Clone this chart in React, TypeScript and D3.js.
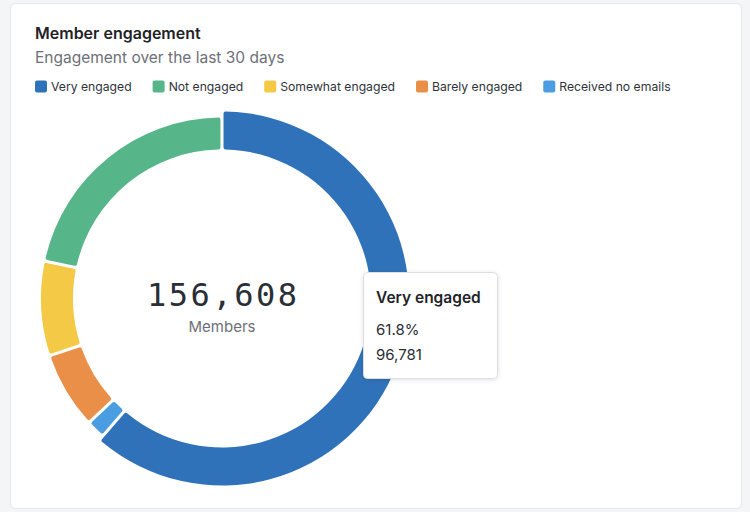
import React, { useEffect, useRef } from "react";
import * as d3 from "d3";

const categories = ["Very engaged", "Not engaged", "Somewhat engaged", "Barely engaged", "Received no emails"];
const members = [96781, 33977, 13000, 10500, 2350];
const colors = ["#3072b9", "#57b58a", "#f3c945", "#ea8f47", "#4a9de0"];
// draw order clockwise from 12 o'clock
const drawOrder = [0, 4, 3, 2, 1];
const title = "Member engagement";
const subtitle = "Engagement over the last 30 days";
const centerLabel = "Members";
const hovered = 0;

const FONT = "Inter, 'Noto Sans', sans-serif";

export default function App() {
  const ref = useRef<SVGSVGElement | null>(null);

  useEffect(() => {
    const svg = d3.select(ref.current);
    svg.selectAll("*").remove();
    const W = 750, H = 512;

    const defs = svg.append("defs");
    const f = defs.append("filter").attr("id", "shadow").attr("x", "-20%").attr("y", "-20%").attr("width", "140%").attr("height", "150%");
    f.append("feDropShadow").attr("dx", 0).attr("dy", 1).attr("stdDeviation", 2).attr("flood-color", "#000").attr("flood-opacity", 0.12);

    svg.append("rect").attr("width", W).attr("height", H).attr("fill", "#f4f5f7");
    svg.append("rect").attr("x", 10.5).attr("y", 3.5).attr("width", 731).attr("height", 505)
      .attr("rx", 5).attr("fill", "#fff").attr("stroke", "#e4e6ea");

    svg.append("text").attr("x", 35).attr("y", 39).attr("font-family", FONT)
      .attr("font-size", 16).attr("font-weight", 600).attr("fill", "#1f2328").text(title);
    svg.append("text").attr("x", 35).attr("y", 63).attr("font-family", FONT)
      .attr("font-size", 15.5).attr("fill", "#6c7078").text(subtitle);

    // legend
    let lx = 35;
    categories.forEach((c, i) => {
      const g = svg.append("g").attr("transform", `translate(${lx},0)`);
      g.append("rect").attr("x", 0).attr("y", 80.5).attr("width", 12).attr("height", 12).attr("rx", 2).attr("fill", colors[i]);
      const t = g.append("text").attr("x", 16).attr("y", 91).attr("font-family", FONT)
        .attr("font-size", 12.2).attr("fill", "#30343a").text(c);
      const w = (t.node() as SVGTextElement).getComputedTextLength();
      lx += 16 + w + 21;
    });

    const total = d3.sum(members);
    const cx = 222, cy = 298.5;
    const inner = 149, outer = 181, outerHover = 187;
    const pie = d3.pie<number>()
      .value((i) => members[i])
      .sort(null)
      .padAngle(0.013);
    const arcs = pie(drawOrder);
    const arc = d3.arc<d3.PieArcDatum<number>>()
      .innerRadius(inner)
      .outerRadius((d) => (d.data === hovered ? outerHover : outer))
      .padRadius(234)
      .cornerRadius(2);

    const gp = svg.append("g").attr("transform", `translate(${cx},${cy})`);
    gp.selectAll("path").data(arcs).join("path")
      .attr("d", arc as any)
      .attr("fill", (d) => colors[d.data]);

    gp.append("text").attr("x", 0).attr("y", 7).attr("text-anchor", "middle")
      .attr("font-family", "'DejaVu Sans Mono', monospace").attr("font-size", 32)
      .attr("textLength", 150).attr("lengthAdjust", "spacing")
      .attr("fill", "#2a2e35").text(d3.format(",")(total));
    gp.append("text").attr("x", 0).attr("y", 33).attr("text-anchor", "middle")
      .attr("font-family", FONT).attr("font-size", 15).attr("fill", "#6c7078").text(centerLabel);

    // tooltip
    const tt = svg.append("g").attr("transform", "translate(363,272)");
    tt.append("rect").attr("x", 0.5).attr("y", 0.5).attr("width", 134).attr("height", 106).attr("rx", 4)
      .attr("fill", "#fff").attr("stroke", "#dcdfe3").attr("filter", "url(#shadow)");
    tt.append("text").attr("x", 13).attr("y", 31).attr("font-family", FONT).attr("font-size", 15.5)
      .attr("font-weight", 600).attr("fill", "#1f2328").text(categories[hovered]);
    tt.append("text").attr("x", 13).attr("y", 63).attr("font-family", FONT).attr("font-size", 15)
      .attr("fill", "#2a2e35").text(d3.format(".1%")(members[hovered] / total));
    tt.append("text").attr("x", 13).attr("y", 88).attr("font-family", FONT).attr("font-size", 15)
      .attr("fill", "#2a2e35").text(d3.format(",")(members[hovered]));
  }, []);

  return (
    <svg ref={ref} width={750} height={512}
      style={{ position: "absolute", left: 0, top: 0, display: "block" }} />
  );
}
